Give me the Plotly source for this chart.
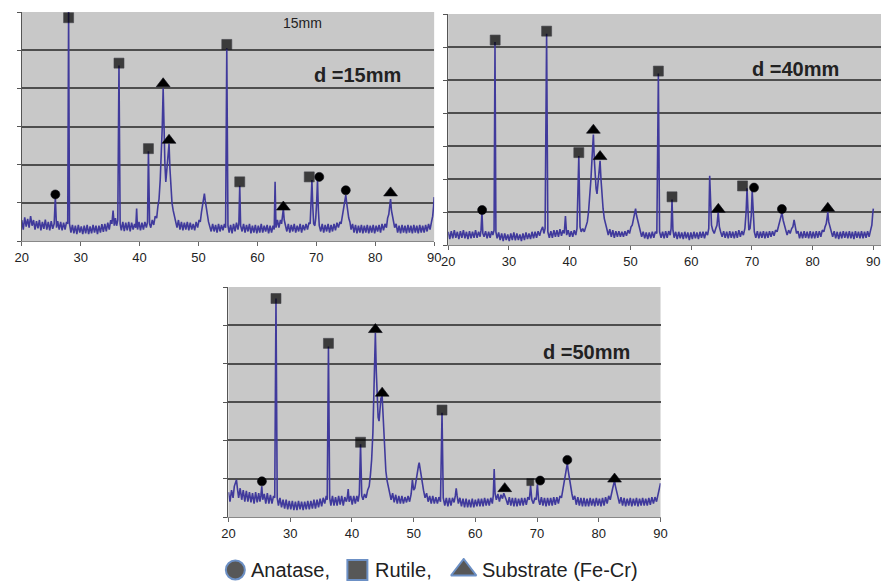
import plotly.graph_objects as go

# ---------------- data: panel d = 15 mm, (2theta, intensity) ----------------
spectrum_15 = [
    (20.0, 0.55), (20.25, 0.30), (20.5, 0.62), (20.75, 0.38), (21.0, 0.58), (21.25, 0.35), (21.5, 0.65),
    (21.75, 0.40), (22.0, 0.55), (22.25, 0.30), (22.5, 0.52), (22.75, 0.33), (23.0, 0.55), (23.25, 0.28),
    (23.5, 0.50), (23.75, 0.32), (24.0, 0.56), (24.25, 0.30), (24.5, 0.50), (24.75, 0.28), (25.0, 0.52),
    (25.25, 0.32), (25.5, 0.45), (25.7, 1.15), (25.9, 0.35), (26.1, 0.52), (26.35, 0.30), (26.6, 0.50),
    (26.85, 0.28), (27.1, 0.48), (27.35, 0.30), (27.6, 0.50), (27.8, 0.45), (27.95, 6.00), (28.1, 0.45),
    (28.35, 0.22), (28.6, 0.42), (28.85, 0.20), (29.1, 0.40), (29.35, 0.18), (29.6, 0.42), (29.85, 0.22),
    (30.1, 0.38), (30.35, 0.18), (30.6, 0.40), (30.85, 0.20), (31.1, 0.42), (31.35, 0.18), (31.6, 0.38),
    (31.85, 0.20), (32.1, 0.42), (32.35, 0.22), (32.6, 0.40), (32.85, 0.18), (33.1, 0.40), (33.35, 0.22),
    (33.6, 0.44), (33.85, 0.24), (34.1, 0.45), (34.35, 0.25), (34.6, 0.48), (34.85, 0.30), (35.1, 0.55),
    (35.3, 0.45), (35.5, 0.80), (35.7, 0.40), (35.9, 0.60), (36.1, 0.40), (36.3, 0.55), (36.5, 4.60),
    (36.7, 0.45), (36.9, 0.28), (37.15, 0.50), (37.4, 0.26), (37.65, 0.48), (37.9, 0.28), (38.15, 0.50),
    (38.4, 0.25), (38.65, 0.48), (38.9, 0.30), (39.15, 0.45), (39.35, 0.35), (39.5, 0.85), (39.65, 0.30),
    (39.9, 0.50), (40.15, 0.28), (40.4, 0.48), (40.65, 0.30), (40.9, 0.50), (41.15, 0.35), (41.35, 0.50),
    (41.5, 2.35), (41.7, 0.45), (41.9, 0.35), (42.15, 0.55), (42.4, 0.42), (42.65, 0.65), (42.9, 0.60),
    (43.1, 0.90), (43.3, 1.10), (43.5, 1.60), (43.7, 2.30), (43.85, 3.00), (44.0, 4.00), (44.15, 2.80),
    (44.3, 2.00), (44.45, 1.55), (44.6, 1.90), (44.8, 2.10), (44.9, 2.30), (45.0, 2.55), (45.15, 1.90),
    (45.3, 1.40), (45.5, 1.00), (45.7, 0.80), (45.9, 0.65), (46.1, 0.55), (46.35, 0.35), (46.6, 0.55),
    (46.85, 0.30), (47.1, 0.50), (47.35, 0.28), (47.6, 0.48), (47.85, 0.30), (48.1, 0.50), (48.35, 0.28),
    (48.6, 0.48), (48.85, 0.30), (49.1, 0.45), (49.35, 0.28), (49.6, 0.50), (49.85, 0.35), (50.1, 0.55),
    (50.3, 0.50), (50.5, 0.75), (50.7, 0.95), (50.9, 1.20), (51.0, 1.24), (51.15, 1.05), (51.3, 0.85),
    (51.5, 0.70), (51.7, 0.50), (51.9, 0.40), (52.15, 0.25), (52.4, 0.45), (52.65, 0.25), (52.9, 0.42),
    (53.15, 0.22), (53.4, 0.45), (53.65, 0.25), (53.9, 0.42), (54.15, 0.28), (54.4, 0.45), (54.6, 0.35),
    (54.8, 5.05), (55.0, 0.40), (55.2, 0.22), (55.45, 0.42), (55.7, 0.20), (55.95, 0.45), (56.2, 0.25),
    (56.45, 0.48), (56.7, 0.30), (56.85, 0.45), (57.0, 1.45), (57.15, 0.40), (57.4, 0.25), (57.65, 0.45),
    (57.9, 0.22), (58.15, 0.42), (58.4, 0.25), (58.65, 0.45), (58.9, 0.20), (59.15, 0.40), (59.4, 0.22),
    (59.65, 0.42), (59.9, 0.20), (60.15, 0.40), (60.4, 0.22), (60.65, 0.45), (60.9, 0.22), (61.15, 0.40),
    (61.4, 0.25), (61.65, 0.42), (61.9, 0.20), (62.15, 0.40), (62.4, 0.22), (62.65, 0.40), (62.85, 0.30),
    (63.0, 1.55), (63.15, 0.35), (63.4, 0.55), (63.65, 0.35), (63.9, 0.55), (64.1, 0.45), (64.25, 0.60),
    (64.4, 0.85), (64.55, 0.55), (64.75, 0.42), (65.0, 0.25), (65.25, 0.45), (65.5, 0.22), (65.75, 0.42),
    (66.0, 0.25), (66.25, 0.45), (66.5, 0.22), (66.75, 0.40), (67.0, 0.25), (67.25, 0.45), (67.5, 0.22),
    (67.75, 0.42), (68.0, 0.28), (68.25, 0.45), (68.5, 0.30), (68.75, 0.48), (68.95, 0.45), (69.1, 1.00),
    (69.25, 1.60), (69.4, 0.90), (69.55, 0.45), (69.75, 0.40), (69.9, 0.60), (70.05, 1.00), (70.2, 1.60),
    (70.35, 0.80), (70.5, 0.40), (70.75, 0.25), (71.0, 0.45), (71.25, 0.22), (71.5, 0.42), (71.75, 0.25),
    (72.0, 0.45), (72.25, 0.22), (72.5, 0.42), (72.75, 0.25), (73.0, 0.45), (73.25, 0.28), (73.5, 0.48),
    (73.75, 0.35), (74.0, 0.50), (74.2, 0.45), (74.4, 0.65), (74.6, 0.80), (74.8, 1.00), (75.0, 1.20),
    (75.15, 1.00), (75.3, 0.80), (75.5, 0.60), (75.7, 0.50), (75.9, 0.30), (76.15, 0.45), (76.4, 0.22),
    (76.65, 0.42), (76.9, 0.20), (77.15, 0.40), (77.4, 0.22), (77.65, 0.42), (77.9, 0.20), (78.15, 0.40),
    (78.4, 0.22), (78.65, 0.42), (78.9, 0.20), (79.15, 0.40), (79.4, 0.22), (79.65, 0.42), (79.9, 0.20),
    (80.15, 0.40), (80.4, 0.25), (80.65, 0.42), (80.9, 0.22), (81.15, 0.45), (81.4, 0.28), (81.65, 0.45),
    (81.9, 0.35), (82.1, 0.60), (82.3, 0.70), (82.45, 0.90), (82.6, 1.10), (82.75, 0.80), (82.9, 0.65),
    (83.1, 0.50), (83.3, 0.35), (83.55, 0.45), (83.8, 0.22), (84.05, 0.40), (84.3, 0.20), (84.55, 0.42),
    (84.8, 0.22), (85.05, 0.40), (85.3, 0.20), (85.55, 0.42), (85.8, 0.22), (86.05, 0.40), (86.3, 0.20),
    (86.55, 0.42), (86.8, 0.22), (87.05, 0.40), (87.3, 0.20), (87.55, 0.42), (87.8, 0.22), (88.05, 0.40),
    (88.3, 0.22), (88.55, 0.42), (88.8, 0.25), (89.05, 0.45), (89.3, 0.30), (89.55, 0.50), (89.75, 0.65),
    (89.9, 0.90), (90.0, 1.15),
]
anatase_x_15 = [25.7, 70.5, 75.0]
anatase_y_15 = [1.22, 1.68, 1.33]
rutile_x_15 = [27.95, 36.5, 41.5, 54.8, 57.0, 68.8]
rutile_y_15 = [5.85, 4.66, 2.42, 5.15, 1.55, 1.68]
substrate_x_15 = [44.0, 45.0, 64.4, 82.6]
substrate_y_15 = [4.12, 2.64, 0.89, 1.26]

# ---------------- data: panel d = 40 mm ----------------
spectrum_40 = [
    (20.0, 0.40), (20.25, 0.18), (20.5, 0.42), (20.75, 0.20), (21.0, 0.45), (21.25, 0.22), (21.5, 0.40),
    (21.75, 0.18), (22.0, 0.42), (22.25, 0.22), (22.5, 0.45), (22.75, 0.20), (23.0, 0.40), (23.25, 0.18),
    (23.5, 0.42), (23.75, 0.20), (24.0, 0.40), (24.25, 0.22), (24.5, 0.45), (24.75, 0.22), (25.0, 0.40),
    (25.25, 0.25), (25.4, 0.45), (25.55, 1.00), (25.7, 0.35), (25.9, 0.25), (26.15, 0.42), (26.4, 0.20),
    (26.65, 0.40), (26.9, 0.22), (27.15, 0.42), (27.35, 0.30), (27.55, 0.45), (27.7, 6.15), (27.85, 0.40),
    (28.05, 0.20), (28.3, 0.38), (28.55, 0.15), (28.8, 0.35), (29.05, 0.12), (29.3, 0.35), (29.55, 0.15),
    (29.8, 0.32), (30.05, 0.12), (30.3, 0.35), (30.55, 0.15), (30.8, 0.38), (31.05, 0.14), (31.3, 0.35),
    (31.55, 0.15), (31.8, 0.32), (32.05, 0.12), (32.3, 0.35), (32.55, 0.15), (32.8, 0.38), (33.05, 0.18),
    (33.3, 0.35), (33.55, 0.18), (33.8, 0.40), (34.05, 0.20), (34.3, 0.40), (34.55, 0.22), (34.8, 0.42),
    (35.05, 0.28), (35.3, 0.45), (35.55, 0.55), (35.75, 0.35), (35.95, 0.50), (36.2, 6.40), (36.4, 0.40),
    (36.65, 0.22), (36.9, 0.42), (37.15, 0.22), (37.4, 0.45), (37.65, 0.25), (37.9, 0.45), (38.15, 0.25),
    (38.4, 0.48), (38.65, 0.28), (38.9, 0.45), (39.1, 0.35), (39.3, 0.88), (39.5, 0.30), (39.75, 0.45),
    (40.0, 0.25), (40.25, 0.42), (40.5, 0.25), (40.75, 0.45), (41.0, 0.30), (41.2, 0.50), (41.5, 2.70),
    (41.7, 0.55), (41.9, 0.40), (42.15, 0.50), (42.4, 0.40), (42.65, 0.60), (42.9, 0.70), (43.1, 1.00),
    (43.3, 1.40), (43.5, 2.00), (43.7, 2.70), (43.9, 3.35), (44.05, 2.60), (44.2, 2.00), (44.35, 1.70),
    (44.5, 1.55), (44.65, 1.80), (44.85, 2.20), (45.0, 2.55), (45.15, 2.00), (45.3, 1.50), (45.5, 1.10),
    (45.7, 0.80), (45.9, 0.60), (46.1, 0.50), (46.35, 0.30), (46.6, 0.48), (46.85, 0.25), (47.1, 0.45),
    (47.35, 0.22), (47.6, 0.42), (47.85, 0.25), (48.1, 0.42), (48.35, 0.25), (48.6, 0.40), (48.85, 0.25),
    (49.1, 0.42), (49.35, 0.28), (49.6, 0.45), (49.85, 0.35), (50.1, 0.55), (50.3, 0.60), (50.5, 0.80),
    (50.7, 0.95), (50.85, 1.10), (51.0, 0.90), (51.2, 0.75), (51.4, 0.55), (51.6, 0.45), (51.85, 0.25),
    (52.1, 0.40), (52.35, 0.20), (52.6, 0.38), (52.85, 0.18), (53.1, 0.38), (53.35, 0.20), (53.6, 0.40),
    (53.85, 0.22), (54.1, 0.40), (54.35, 0.35), (54.6, 5.20), (54.8, 0.40), (55.05, 0.22), (55.3, 0.40),
    (55.55, 0.20), (55.8, 0.42), (56.05, 0.22), (56.3, 0.42), (56.55, 0.30), (56.7, 0.50), (56.85, 1.38),
    (57.0, 0.45), (57.2, 0.22), (57.45, 0.40), (57.7, 0.18), (57.95, 0.40), (58.2, 0.20), (58.45, 0.38),
    (58.7, 0.18), (58.95, 0.40), (59.2, 0.20), (59.45, 0.38), (59.7, 0.15), (59.95, 0.38), (60.2, 0.18),
    (60.45, 0.40), (60.7, 0.20), (60.95, 0.38), (61.2, 0.18), (61.45, 0.40), (61.7, 0.22), (61.95, 0.40),
    (62.2, 0.20), (62.45, 0.40), (62.7, 0.30), (62.9, 0.50), (63.05, 2.10), (63.2, 1.00), (63.35, 0.60),
    (63.55, 0.45), (63.8, 0.35), (64.05, 0.50), (64.25, 0.60), (64.45, 1.00), (64.65, 0.55), (64.85, 0.40),
    (65.1, 0.25), (65.35, 0.42), (65.6, 0.22), (65.85, 0.40), (66.1, 0.20), (66.35, 0.42), (66.6, 0.22),
    (66.85, 0.40), (67.1, 0.20), (67.35, 0.42), (67.6, 0.22), (67.85, 0.45), (68.1, 0.25), (68.35, 0.42),
    (68.6, 0.30), (68.85, 0.50), (69.05, 1.00), (69.2, 1.72), (69.35, 1.00), (69.5, 0.45), (69.7, 0.50),
    (69.9, 0.90), (70.05, 1.65), (70.2, 0.90), (70.4, 0.40), (70.65, 0.22), (70.9, 0.42), (71.15, 0.20),
    (71.4, 0.40), (71.65, 0.22), (71.9, 0.42), (72.15, 0.20), (72.4, 0.40), (72.65, 0.22), (72.9, 0.42),
    (73.15, 0.25), (73.4, 0.42), (73.65, 0.28), (73.9, 0.45), (74.15, 0.40), (74.35, 0.55), (74.55, 0.65),
    (74.75, 0.80), (74.95, 0.98), (75.15, 0.75), (75.35, 0.60), (75.55, 0.45), (75.8, 0.30), (76.05, 0.45),
    (76.3, 0.35), (76.55, 0.50), (76.75, 0.55), (76.95, 0.76), (77.15, 0.50), (77.35, 0.35), (77.6, 0.42),
    (77.85, 0.20), (78.1, 0.40), (78.35, 0.20), (78.6, 0.42), (78.85, 0.22), (79.1, 0.40), (79.35, 0.20),
    (79.6, 0.42), (79.85, 0.20), (80.1, 0.40), (80.35, 0.20), (80.6, 0.42), (80.85, 0.22), (81.1, 0.42),
    (81.35, 0.25), (81.6, 0.45), (81.85, 0.40), (82.05, 0.55), (82.25, 0.65), (82.4, 0.85), (82.5, 1.00),
    (82.65, 0.70), (82.85, 0.55), (83.05, 0.40), (83.3, 0.25), (83.55, 0.42), (83.8, 0.20), (84.05, 0.40),
    (84.3, 0.18), (84.55, 0.40), (84.8, 0.20), (85.05, 0.42), (85.3, 0.22), (85.55, 0.40), (85.8, 0.20),
    (86.05, 0.42), (86.3, 0.20), (86.55, 0.40), (86.8, 0.18), (87.05, 0.42), (87.3, 0.22), (87.55, 0.40),
    (87.8, 0.20), (88.05, 0.42), (88.3, 0.20), (88.55, 0.40), (88.8, 0.22), (89.05, 0.42), (89.3, 0.25),
    (89.55, 0.45), (89.75, 0.60), (89.9, 0.95), (90.0, 1.10),
]
anatase_x_40 = [25.58, 70.35, 74.94]
anatase_y_40 = [1.06, 1.74, 1.09]
rutile_x_40 = [27.73, 36.2, 41.5, 54.6, 56.85, 68.46]
rutile_y_40 = [6.21, 6.48, 2.80, 5.27, 1.46, 1.79]
substrate_x_40 = [43.9, 45.0, 64.47, 82.5]
substrate_y_40 = [3.48, 2.68, 1.08, 1.11]

# ---------------- data: panel d = 50 mm ----------------
spectrum_50 = [
    (20.0, 0.65), (20.25, 0.40), (20.5, 0.70), (20.75, 0.50), (20.95, 0.80), (21.15, 0.90), (21.3, 0.97),
    (21.45, 0.75), (21.65, 0.50), (21.9, 0.75), (22.15, 0.45), (22.4, 0.70), (22.65, 0.40), (22.9, 0.68),
    (23.15, 0.40), (23.4, 0.65), (23.65, 0.38), (23.9, 0.62), (24.15, 0.35), (24.4, 0.65), (24.65, 0.38),
    (24.9, 0.62), (25.1, 0.40), (25.25, 0.55), (25.4, 0.80), (25.55, 0.45), (25.8, 0.60), (26.05, 0.35),
    (26.3, 0.62), (26.55, 0.35), (26.8, 0.58), (27.05, 0.35), (27.3, 0.55), (27.5, 0.50), (27.7, 5.70),
    (27.9, 0.50), (28.1, 0.30), (28.35, 0.50), (28.6, 0.25), (28.85, 0.45), (29.1, 0.22), (29.35, 0.45),
    (29.6, 0.20), (29.85, 0.42), (30.1, 0.20), (30.35, 0.42), (30.6, 0.18), (30.85, 0.40), (31.1, 0.18),
    (31.35, 0.42), (31.6, 0.20), (31.85, 0.40), (32.1, 0.18), (32.35, 0.40), (32.6, 0.20), (32.85, 0.42),
    (33.1, 0.20), (33.35, 0.42), (33.6, 0.22), (33.85, 0.45), (34.1, 0.22), (34.35, 0.45), (34.6, 0.25),
    (34.85, 0.48), (35.1, 0.28), (35.35, 0.50), (35.6, 0.35), (35.85, 0.55), (36.0, 0.45), (36.2, 4.45),
    (36.4, 0.50), (36.6, 0.30), (36.85, 0.55), (37.1, 0.30), (37.35, 0.52), (37.6, 0.30), (37.85, 0.55),
    (38.1, 0.32), (38.35, 0.55), (38.6, 0.30), (38.85, 0.52), (39.1, 0.40), (39.25, 0.50), (39.4, 0.73),
    (39.55, 0.40), (39.8, 0.55), (40.05, 0.32), (40.3, 0.55), (40.55, 0.35), (40.8, 0.55), (41.0, 0.40),
    (41.2, 0.60), (41.4, 1.90), (41.6, 0.55), (41.8, 0.45), (42.05, 0.60), (42.3, 0.50), (42.55, 0.70),
    (42.8, 0.80), (43.0, 1.10), (43.2, 1.50), (43.4, 2.20), (43.6, 3.20), (43.8, 4.80), (43.95, 3.80),
    (44.1, 3.00), (44.25, 2.60), (44.4, 2.50), (44.55, 2.90), (44.7, 3.10), (44.9, 3.15), (45.05, 2.60),
    (45.2, 2.00), (45.35, 1.50), (45.5, 1.20), (45.7, 0.95), (45.9, 0.80), (46.1, 0.65), (46.35, 0.45),
    (46.6, 0.62), (46.85, 0.38), (47.1, 0.58), (47.35, 0.35), (47.6, 0.55), (47.85, 0.35), (48.1, 0.55),
    (48.35, 0.35), (48.6, 0.52), (48.85, 0.38), (49.1, 0.55), (49.35, 0.40), (49.6, 0.60), (49.8, 0.97),
    (50.0, 0.70), (50.2, 0.75), (50.4, 0.95), (50.6, 1.20), (50.8, 1.35), (50.9, 1.42), (51.05, 1.25),
    (51.2, 1.05), (51.4, 0.85), (51.6, 0.70), (51.85, 0.50), (52.1, 0.62), (52.35, 0.40), (52.6, 0.55),
    (52.85, 0.35), (53.1, 0.55), (53.35, 0.35), (53.6, 0.52), (53.85, 0.35), (54.1, 0.52), (54.35, 0.40),
    (54.6, 2.72), (54.8, 0.50), (55.05, 0.30), (55.3, 0.50), (55.55, 0.28), (55.8, 0.50), (56.05, 0.30),
    (56.3, 0.50), (56.55, 0.38), (56.75, 0.55), (56.9, 0.75), (57.05, 0.55), (57.25, 0.35), (57.5, 0.50),
    (57.75, 0.28), (58.0, 0.48), (58.25, 0.25), (58.5, 0.48), (58.75, 0.25), (59.0, 0.45), (59.25, 0.25),
    (59.5, 0.48), (59.75, 0.25), (60.0, 0.45), (60.25, 0.28), (60.5, 0.48), (60.75, 0.28), (61.0, 0.48),
    (61.25, 0.28), (61.5, 0.50), (61.75, 0.30), (62.0, 0.48), (62.25, 0.30), (62.5, 0.50), (62.75, 0.35),
    (62.9, 0.55), (63.05, 1.25), (63.2, 0.60), (63.4, 0.45), (63.65, 0.60), (63.9, 0.40), (64.15, 0.58),
    (64.4, 0.48), (64.6, 0.62), (64.8, 0.55), (65.0, 0.45), (65.25, 0.32), (65.5, 0.52), (65.75, 0.30),
    (66.0, 0.50), (66.25, 0.28), (66.5, 0.50), (66.75, 0.28), (67.0, 0.48), (67.25, 0.30), (67.5, 0.50),
    (67.75, 0.30), (68.0, 0.50), (68.25, 0.32), (68.5, 0.52), (68.75, 0.45), (68.95, 0.82), (69.15, 0.45),
    (69.4, 0.35), (69.65, 0.50), (69.85, 0.45), (70.05, 0.85), (70.25, 0.45), (70.45, 0.32), (70.7, 0.52),
    (70.95, 0.30), (71.2, 0.50), (71.45, 0.28), (71.7, 0.50), (71.95, 0.30), (72.2, 0.50), (72.45, 0.30),
    (72.7, 0.52), (72.95, 0.32), (73.2, 0.52), (73.45, 0.35), (73.7, 0.55), (73.95, 0.50), (74.15, 0.70),
    (74.35, 0.80), (74.55, 1.00), (74.75, 1.25), (74.9, 1.40), (75.05, 1.20), (75.25, 0.95), (75.45, 0.75),
    (75.65, 0.60), (75.85, 0.45), (76.1, 0.55), (76.35, 0.32), (76.6, 0.52), (76.85, 0.30), (77.1, 0.50),
    (77.35, 0.28), (77.6, 0.50), (77.85, 0.28), (78.1, 0.48), (78.35, 0.28), (78.6, 0.50), (78.85, 0.30),
    (79.1, 0.48), (79.35, 0.28), (79.6, 0.50), (79.85, 0.30), (80.1, 0.48), (80.35, 0.28), (80.6, 0.50),
    (80.85, 0.30), (81.1, 0.52), (81.35, 0.35), (81.6, 0.55), (81.85, 0.45), (82.05, 0.65), (82.25, 0.75),
    (82.4, 0.85), (82.55, 0.95), (82.7, 0.80), (82.9, 0.65), (83.1, 0.50), (83.35, 0.35), (83.6, 0.52),
    (83.85, 0.30), (84.1, 0.50), (84.35, 0.28), (84.6, 0.48), (84.85, 0.30), (85.1, 0.50), (85.35, 0.28),
    (85.6, 0.48), (85.85, 0.30), (86.1, 0.50), (86.35, 0.28), (86.6, 0.48), (86.85, 0.30), (87.1, 0.50),
    (87.35, 0.30), (87.6, 0.48), (87.85, 0.30), (88.1, 0.50), (88.35, 0.32), (88.6, 0.52), (88.85, 0.35),
    (89.1, 0.52), (89.35, 0.40), (89.55, 0.55), (89.75, 0.70), (89.9, 0.85), (90.0, 0.88),
]
anatase_x_50 = [25.42, 70.5, 74.9]
anatase_y_50 = [0.93, 0.95, 1.49]
rutile_x_50 = [27.7, 36.2, 41.4, 54.6, 68.9]
rutile_y_50 = [5.70, 4.53, 1.95, 2.79, 0.91]
substrate_x_50 = [43.8, 44.9, 64.76, 82.55]
substrate_y_50 = [4.89, 3.23, 0.74, 0.99]

x_ticks = [20, 30, 40, 50, 60, 70, 80, 90]
legend_labels = ["Anatase,", "Rutile,", "Substrate (Fe-Cr)"]
panel_labels = ["d =15mm", "d =40mm", "d =50mm"]
top_note = "15mm"

# ---------------- styling ----------------
FONT = "Arial, 'Liberation Sans', sans-serif"
LINE_COLOR = "#403a9c"
BG = "#c8c8c8"
GRID = "#4e4e4e"
MARK_LINE = dict(color="#0a0a14", width=0.6)

fig = go.Figure()

panels = [
    ("x", "y", spectrum_15, anatase_x_15, anatase_y_15, rutile_x_15, rutile_y_15,
     substrate_x_15, substrate_y_15, [10] * 6),
    ("x2", "y2", spectrum_40, anatase_x_40, anatase_y_40, rutile_x_40, rutile_y_40,
     substrate_x_40, substrate_y_40, [10] * 6),
    ("x3", "y3", spectrum_50, anatase_x_50, anatase_y_50, rutile_x_50, rutile_y_50,
     substrate_x_50, substrate_y_50, [10, 10, 10, 10, 7]),
]

for xa, ya, spec, ax_, ay_, rx, ry, sx, sy, rsizes in panels:
    tx = [p[0] for p in spec]
    iy = [p[1] for p in spec]
    fig.add_trace(go.Scatter(x=tx, y=iy, xaxis=xa, yaxis=ya, mode="lines",
                             line=dict(color=LINE_COLOR, width=1.6), showlegend=False, hoverinfo="skip"))
    fig.add_trace(go.Scatter(x=ax_, y=ay_, xaxis=xa, yaxis=ya, mode="markers", showlegend=False,
                             marker=dict(symbol="circle", size=9, color="#000000", line=MARK_LINE)))
    fig.add_trace(go.Scatter(x=rx, y=ry, xaxis=xa, yaxis=ya, mode="markers", showlegend=False,
                             marker=dict(symbol="square", size=rsizes, color="#000000", line=MARK_LINE)))
    fig.add_trace(go.Scatter(x=sx, y=sy, xaxis=xa, yaxis=ya, mode="markers", showlegend=False,
                             marker=dict(symbol="triangle-up", size=12, color="#000000", line=MARK_LINE)))

# hand-made legend row (large symbols like the figure)
legend_x = [232, 356, 464]
fig.add_trace(go.Scatter(x=legend_x, y=[0.5, 0.5, 0.5], xaxis="x4", yaxis="y4", mode="markers",
                         showlegend=False, hoverinfo="skip",
                         marker=dict(symbol=["circle", "square", "triangle-up"], size=[19, 20, 22],
                                     color="#111111", line=dict(color="#2f62ad", width=2))))

xcommon = dict(tickvals=x_ticks, ticks="outside", ticklen=4, tickcolor="#666", showline=True,
               linecolor="#888", linewidth=1, showgrid=False, zeroline=False,
               tickfont=dict(family=FONT, size=13, color="#222"))
ycommon = dict(dtick=1, ticks="outside", ticklen=4, tickcolor="#555", showline=True, linecolor="#555",
               linewidth=1, showticklabels=False, showgrid=True, gridcolor=GRID, gridwidth=1.5,
               zeroline=False)

W, H = 888, 583
fig.update_layout(
    width=W, height=H, margin=dict(l=0, r=0, t=0, b=0),
    paper_bgcolor="white", plot_bgcolor="white",
    xaxis=dict(domain=[15 / W, 434 / W], range=[20, 90], anchor="y", **xcommon),
    yaxis=dict(domain=[1 - 241 / H, 1 - 12 / H], range=[0, 6], anchor="x", **ycommon),
    xaxis2=dict(domain=[448.3 / W, 1.0], range=[20, 91.26], anchor="y2", **xcommon),
    yaxis2=dict(domain=[1 - 245 / H, 1 - 14 / H], range=[0, 7], anchor="x2", **ycommon),
    xaxis3=dict(domain=[225 / W, 664 / W], range=[20, 90], anchor="y3", **xcommon),
    yaxis3=dict(domain=[1 - 517 / H, 1 - 287 / H], range=[0, 6], anchor="x3", **ycommon),
    xaxis4=dict(domain=[0, 1], range=[0, W], anchor="y4", visible=False),
    yaxis4=dict(domain=[1 / H, 25 / H], range=[0, 1], anchor="x4", visible=False),
    showlegend=False,
)

shapes = []
for xr, yr in [("x", "y"), ("x2", "y2"), ("x3", "y3")]:
    shapes.append(dict(type="rect", xref=f"{xr} domain", yref=f"{yr} domain", x0=0, x1=1, y0=0, y1=1,
                       fillcolor=BG, line=dict(width=0), layer="below"))
fig.update_layout(shapes=shapes)

annotations = [
    dict(text=top_note, x=300 / W, y=1 - 23 / H, xref="paper", yref="paper", showarrow=False,
         font=dict(family=FONT, size=14, color="#222"), xanchor="center", yanchor="middle"),
    dict(text=f"<b>{panel_labels[0]}</b>", x=356 / W, y=1 - 75 / H, xref="paper", yref="paper",
         showarrow=False, font=dict(family=FONT, size=20, color="#222"), xanchor="center", yanchor="middle"),
    dict(text=f"<b>{panel_labels[1]}</b>", x=801 / W, y=1 - 69 / H, xref="paper", yref="paper",
         showarrow=False, font=dict(family=FONT, size=20, color="#222"), xanchor="center", yanchor="middle"),
    dict(text=f"<b>{panel_labels[2]}</b>", x=589 / W, y=1 - 352 / H, xref="paper", yref="paper",
         showarrow=False, font=dict(family=FONT, size=20, color="#222"), xanchor="center", yanchor="middle"),
]
for lx, lab in zip([246, 372, 481], legend_labels):
    annotations.append(dict(text=lab, x=lx, y=0.5, xref="x4", yref="y4", showarrow=False,
                            font=dict(family=FONT, size=20, color="#222"), xanchor="left", yanchor="middle"))
fig.update_layout(annotations=annotations)

# remove the browser's default 8px body margin so the 888x583 figure fills the window exactly
fig.write_html("out.html", config={"displayModeBar": False},
               post_script="document.body.style.margin='0px';")
